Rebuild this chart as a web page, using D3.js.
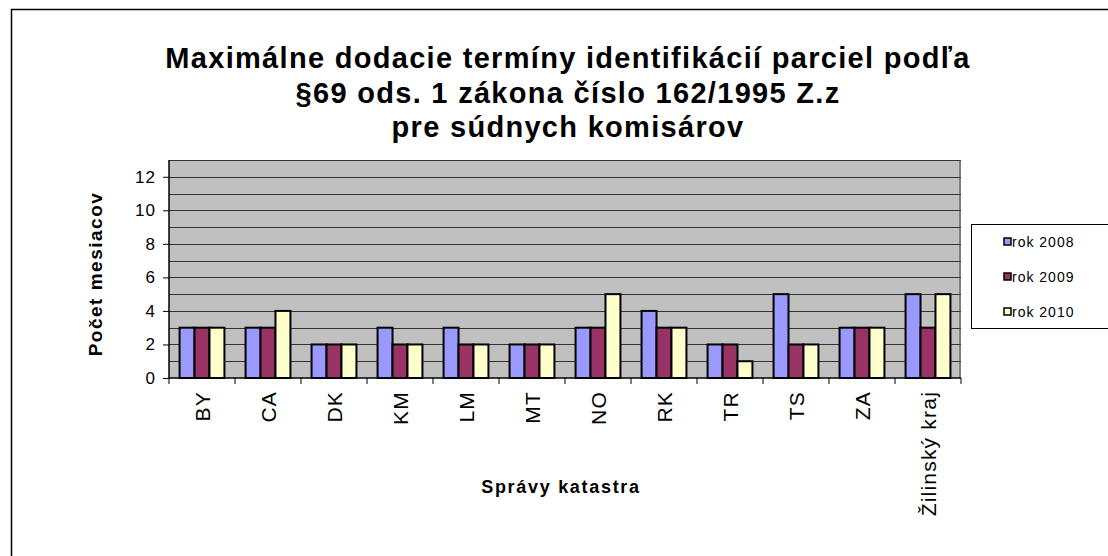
<!DOCTYPE html>
<html>
<head>
<meta charset="utf-8">
<script src="https://cdn.jsdelivr.net/npm/d3@7"></script>
<style>
    body { margin: 0; background: #fff; }
    text { font-family: Arial, "Liberation Sans", sans-serif; fill: #000; }
</style>
</head>
<body>
<div id="chart"></div>
<script>
var categories = ["BY", "CA", "DK", "KM", "LM", "MT", "NO", "RK", "TR", "TS", "ZA", "Žilinský kraj"];
var seriesNames = ["rok 2008", "rok 2009", "rok 2010"];
var rok2008 = [3, 3, 2, 3, 3, 2, 3, 4, 2, 5, 3, 5];
var rok2009 = [3, 3, 2, 2, 2, 2, 3, 3, 2, 2, 3, 3];
var rok2010 = [3, 4, 2, 2, 2, 2, 5, 3, 1, 2, 3, 5];
var yTicks = [0, 2, 4, 6, 8, 10, 12];
var colors = ["#9999FF", "#993366", "#FFFFCC"];

var svg_width = 1108, svg_height = 556;
var margin = {top: 160, right: 147, bottom: 178, left: 169};
var width = svg_width - margin.left - margin.right;
var height = svg_height - margin.top - margin.bottom;

var svg = d3.select("#chart").append("svg")
    .attr("width", svg_width)
    .attr("height", svg_height);

// outer chart border (runs off the right and bottom edges)
svg.append("rect")
    .attr("x", 11.5).attr("y", 9.5)
    .attr("width", 1110).attr("height", 560)
    .attr("fill", "#fff").attr("stroke", "#000").attr("stroke-width", 1.5);

var title = svg.append("text")
    .attr("text-anchor", "middle")
    .style("font-size", "29px").style("font-weight", "bold")
    .style("letter-spacing", "1.3px");
["Maximálne dodacie termíny identifikácií parciel podľa", "§69 ods. 1 zákona číslo 162/1995 Z.z", "pre súdnych komisárov"]
    .forEach(function(line, i) {
        title.append("tspan").attr("x", 568).attr("y", 68 + i * 34.7).text(line);
    });

var g = svg.append("g")
    .attr("transform", "translate(" + margin.left + "," + margin.top + ")");

var x0 = d3.scaleBand().domain(categories).range([0, width]).paddingInner(0.32).paddingOuter(0.16);
var x1 = d3.scaleBand().domain(seriesNames).range([0, x0.bandwidth()]);
var y = d3.scaleLinear().domain([0, 13]).range([height, 0]);

g.append("rect")
    .attr("width", width).attr("height", height)
    .attr("fill", "#C0C0C0");
g.append("line")
    .attr("x1", width - 1).attr("x2", width - 1)
    .attr("y1", 0).attr("y2", height)
    .attr("stroke", "#808080").attr("stroke-width", 2);

g.selectAll(".grid")
    .data(d3.range(1, 14))
  .enter().append("line")
    .attr("class", "grid")
    .attr("x1", 0).attr("x2", width)
    .attr("y1", function(d) { return Math.round(y(d)) + 0.5; })
    .attr("y2", function(d) { return Math.round(y(d)) + 0.5; })
    .attr("stroke", "#333").attr("stroke-width", 1);

var series = [rok2008, rok2009, rok2010];
var groups = g.selectAll(".grp")
    .data(categories)
  .enter().append("g")
    .attr("class", "grp")
    .attr("transform", function(d) { return "translate(" + x0(d) + ",0)"; });

groups.selectAll("rect")
    .data(function(d, i) { return series.map(function(s, j) { return {key: seriesNames[j], value: s[i], c: colors[j]}; }); })
  .enter().append("rect")
    .attr("x", function(d) { return x1(d.key); })
    .attr("width", x1.bandwidth())
    .attr("y", function(d) { return y(d.value); })
    .attr("height", function(d) { return height - y(d.value); })
    .attr("fill", function(d) { return d.c; })
    .attr("stroke", "#000").attr("stroke-width", 2);

// y axis
var yAxis = g.append("g").call(d3.axisLeft(y).tickValues(yTicks).tickSize(6).tickPadding(7));
yAxis.select(".domain").attr("stroke", "#000").attr("stroke-width", 1.5).attr("d", "M0,0V" + height);
yAxis.selectAll("text").style("font-size", "17px").style("letter-spacing", "1px");

// x axis
var xAxis = g.append("g").attr("transform", "translate(0," + height + ")");
xAxis.append("line").attr("x1", 0).attr("x2", width).attr("stroke", "#000").attr("stroke-width", 1.5);
xAxis.selectAll(".tk")
    .data(d3.range(0, categories.length + 1))
  .enter().append("line")
    .attr("class", "tk")
    .attr("x1", function(d) { return d * width / categories.length; })
    .attr("x2", function(d) { return d * width / categories.length; })
    .attr("y1", 0).attr("y2", 6)
    .attr("stroke", "#000");
xAxis.selectAll(".lbl")
    .data(categories)
  .enter().append("text")
    .attr("class", "lbl")
    .attr("text-anchor", "end")
    .attr("transform", function(d) { return "translate(" + (x0(d) + x0.bandwidth() / 2 + 7.5) + ",13) rotate(-90)"; })
    .style("font-size", "21px").style("letter-spacing", "1.2px")
    .text(function(d) { return d; });

svg.append("text")
    .attr("x", 561).attr("y", 493)
    .attr("text-anchor", "middle")
    .style("font-size", "18px").style("font-weight", "bold").style("letter-spacing", "1.7px")
    .text("Správy katastra");

svg.append("text")
    .attr("transform", "translate(102,274) rotate(-90)")
    .attr("text-anchor", "middle")
    .style("font-size", "19px").style("font-weight", "bold").style("letter-spacing", "1.5px")
    .text("Počet mesiacov");

// legend
var legend = svg.append("g");
legend.append("rect")
    .attr("x", 971.5).attr("y", 224.5)
    .attr("width", 150).attr("height", 104)
    .attr("fill", "#fff").attr("stroke", "#000");
seriesNames.forEach(function(name, i) {
    var ly = 242 + i * 35;
    legend.append("rect")
        .attr("x", 1004).attr("y", ly - 4)
        .attr("width", 7).attr("height", 7)
        .attr("fill", colors[i]).attr("stroke", "#000").attr("stroke-width", 1.5);
    legend.append("text")
        .attr("x", 1012).attr("y", ly + 5)
        .style("font-size", "14px").style("letter-spacing", "1px")
        .text(name);
});
</script>
</body>
</html>
